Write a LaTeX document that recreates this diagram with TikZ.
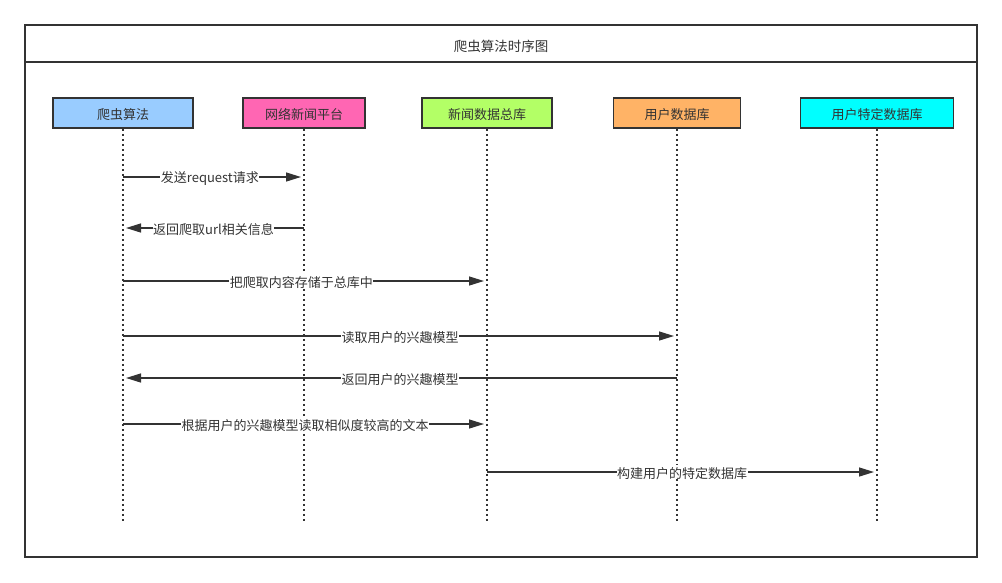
\documentclass[tikz,border=0pt]{standalone}
\usepackage{fontspec}
\setmainfont{Noto Sans CJK SC}
\usetikzlibrary{arrows.meta}
\definecolor{ink}{HTML}{333333}
\definecolor{cblue}{HTML}{99CCFF}
\definecolor{cpink}{HTML}{FF66B3}
\definecolor{cgreen}{HTML}{B3FF66}
\definecolor{corange}{HTML}{FFB366}
\definecolor{ccyan}{HTML}{00FFFF}
\newcommand\lowertxt[1]{\raisebox{-1.5pt}[\height][\depth]{#1}}
\tikzset{
  actor/.style={draw=ink, line width=1.8pt, minimum height=30pt, inner sep=0pt, font=\fontsize{13}{15}\selectfont, text=ink},
  life/.style={draw=ink, line width=1.5pt, dash pattern=on 2pt off 3pt},
  msg/.style={draw=ink, line width=1.4pt, -{Triangle[length=15pt,width=9pt]}, shorten >=3pt},
  lbl/.style={fill=white, inner sep=0.5pt, font=\fontsize{13}{15}\selectfont, text=ink},
}
\begin{document}
\begin{tikzpicture}[x=1pt,y=-1pt]
\useasboundingbox (0,0) rectangle (1002,582);
\draw[ink, line width=1.8pt] (25,25) rectangle (977,557);
\draw[ink, line width=1.8pt] (25,62) -- (977,62);
\node[font=\fontsize{13.5}{15}\selectfont, text=ink] (title) at (501,46) {爬虫算法时序图};
\node[actor, fill=cblue, minimum width=140pt] (a) at (123,113) {\lowertxt{爬虫算法}};
\node[actor, fill=cpink, minimum width=122pt] (b) at (304,113) {\lowertxt{网络新闻平台}};
\node[actor, fill=cgreen, minimum width=130pt] (c) at (487,113) {\lowertxt{新闻数据总库}};
\node[actor, fill=corange, minimum width=127pt] (d) at (677,113) {\lowertxt{用户数据库}};
\node[actor, fill=ccyan, minimum width=153pt] (e) at (877,113) {\lowertxt{用户特定数据库}};
\coordinate (bottom) at (0,522);
\foreach \n in {a,b,c,d,e} {
  \coordinate (\n end) at (\n.south |- bottom);
  \draw[life] (\n.south) -- (\n end);
}
\coordinate (m1) at (0,177);
\coordinate (m2) at (0,228);
\coordinate (m3) at (0,281);
\coordinate (m4) at (0,336);
\coordinate (m5) at (0,378);
\coordinate (m6) at (0,424);
\coordinate (m7) at (0,472);
\draw[msg] (a.south |- m1) -- node[lbl, pos=0.48]{\lowertxt{发送request请求}} (b.south |- m1);
\draw[msg] (b.south |- m2) -- node[lbl, pos=0.5]{\lowertxt{返回爬取url相关信息}} (a.south |- m2);
\draw[msg] (a.south |- m3) -- node[lbl, pos=0.49]{\lowertxt{把爬取内容存储于总库中}} (c.south |- m3);
\draw[msg] (a.south |- m4) -- node[lbl, pos=0.5]{\lowertxt{读取用户的兴趣模型}} (d.south |- m4);
\draw[msg] (d.south |- m5) -- node[lbl, pos=0.5]{\lowertxt{返回用户的兴趣模型}} (a.south |- m5);
\draw[msg] (a.south |- m6) -- node[lbl, pos=0.5]{\lowertxt{根据用户的兴趣模型读取相似度较高的文本}} (c.south |- m6);
\draw[msg] (c.south |- m7) -- node[lbl, pos=0.5]{\lowertxt{构建用户的特定数据库}} (e.south |- m7);
\end{tikzpicture}
\end{document}
